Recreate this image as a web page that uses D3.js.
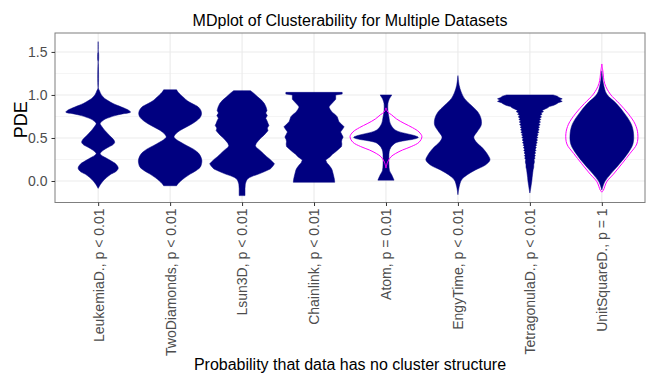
<!DOCTYPE html>
<html>
<head>
<meta charset="utf-8">
<script src="https://cdn.jsdelivr.net/npm/d3@7"></script>
<style>
  body { margin: 0; background: #fff; }
  svg { display: block; font-family: "Liberation Sans", Arial, sans-serif; }
</style>
</head>
<body>
<div id="chart"></div>
<script>
// datasets shown on the x axis and their p-value text
const datasets = ["LeukemiaD.", "TwoDiamonds", "Lsun3D", "Chainlink", "Atom", "EngyTime", "TetragonulaD.", "UnitSquareD."];
const pTexts = ["p < 0.01", "p < 0.01", "p < 0.01", "p < 0.01", "p = 0.01", "p < 0.01", "p < 0.01", "p = 1"];
const yTicks = [0, 0.5, 1, 1.5];
const yMinor = [0.25, 0.75, 1.25];

// PDE shapes: [value, relative density]
const leukemia = [[1.62,0],[1.50,0.003],[1.49,0.012],[1.40,0.012],[1.39,0.003],[1.08,0.003],[1.05,0.04],[1.0,0.1],[0.96,0.2],[0.935,0.3],[0.90,0.46],[0.86,0.72],[0.82,0.95],[0.80,1.0],[0.78,0.75],[0.76,0.52],[0.74,0.36],[0.72,0.22],[0.70,0.14],[0.68,0.08],[0.665,0.06],[0.64,0.1],[0.59,0.2],[0.55,0.3],[0.51,0.4],[0.48,0.48],[0.45,0.51],[0.42,0.45],[0.39,0.3],[0.36,0.17],[0.335,0.09],[0.32,0.06],[0.30,0.1],[0.256,0.3],[0.22,0.46],[0.20,0.54],[0.15,0.62],[0.11,0.55],[0.08,0.4],[0.04,0.26],[0.0,0.15],[-0.04,0.07],[-0.086,0]];
const twoDiamonds = [[1.06,0.2],[1.03,0.25],[1.0,0.33],[0.96,0.45],[0.935,0.52],[0.90,0.68],[0.86,0.87],[0.82,0.95],[0.78,0.97],[0.74,0.93],[0.70,0.82],[0.66,0.66],[0.625,0.49],[0.59,0.32],[0.55,0.18],[0.51,0.12],[0.48,0.2],[0.45,0.33],[0.41,0.52],[0.37,0.72],[0.33,0.86],[0.295,0.93],[0.24,0.98],[0.20,0.97],[0.16,0.93],[0.12,0.8],[0.08,0.62],[0.04,0.46],[0.0,0.33],[-0.03,0.25],[-0.055,0.2]];
const lsun3D = [[1.05,0.26],[1.02,0.36],[0.975,0.49],[0.94,0.6],[0.90,0.69],[0.86,0.74],[0.82,0.77],[0.79,0.73],[0.76,0.78],[0.73,0.73],[0.70,0.77],[0.67,0.8],[0.645,0.83],[0.615,0.78],[0.585,0.8],[0.55,0.72],[0.53,0.67],[0.50,0.58],[0.47,0.51],[0.44,0.44],[0.41,0.41],[0.39,0.44],[0.37,0.51],[0.34,0.6],[0.315,0.67],[0.28,0.77],[0.256,0.85],[0.22,0.95],[0.20,1.0],[0.17,0.95],[0.14,0.87],[0.11,0.7],[0.08,0.51],[0.06,0.35],[0.04,0.23],[0.02,0.16],[0.0,0.13],[-0.035,0.1],[-0.09,0.09],[-0.13,0.09],[-0.17,0.09]];
const chainlink = [[1.03,0.87],[1.01,0.87],[1.0,0.67],[0.95,0.67],[0.92,0.6],[0.88,0.5],[0.86,0.46],[0.83,0.5],[0.80,0.56],[0.77,0.66],[0.745,0.72],[0.71,0.75],[0.688,0.77],[0.66,0.85],[0.63,0.93],[0.60,0.88],[0.57,0.82],[0.54,0.86],[0.51,0.9],[0.48,0.86],[0.456,0.85],[0.43,0.86],[0.40,0.85],[0.37,0.76],[0.34,0.67],[0.31,0.57],[0.28,0.49],[0.244,0.36],[0.21,0.4],[0.186,0.46],[0.15,0.53],[0.128,0.56],[0.07,0.6],[0.02,0.63],[-0.015,0.64]];
const atom = [[1.0,0.18],[0.97,0.13],[0.95,0.1],[0.9,0.06],[0.82,0.06],[0.745,0.09],[0.67,0.13],[0.61,0.23],[0.575,0.38],[0.55,0.64],[0.525,0.9],[0.507,1.0],[0.49,0.9],[0.476,0.7],[0.46,0.45],[0.44,0.28],[0.39,0.15],[0.34,0.1],[0.28,0.09],[0.2,0.09],[0.12,0.11],[0.07,0.18],[0.01,0.25]];
const engyTime = [[1.225,0],[1.11,0.04],[1.035,0.1],[0.96,0.2],[0.88,0.41],[0.80,0.62],[0.73,0.71],[0.65,0.72],[0.57,0.59],[0.51,0.49],[0.456,0.56],[0.38,0.77],[0.30,0.93],[0.244,0.99],[0.186,0.85],[0.128,0.54],[0.07,0.28],[0.012,0.11],[-0.066,0.04],[-0.16,0]];
const tetragonula = [[1.0,0.72],[0.985,0.85],[0.97,0.9],[0.955,1.0],[0.94,0.93],[0.925,1.0],[0.91,0.88],[0.895,0.82],[0.88,0.74],[0.865,0.6],[0.85,0.55],[0.835,0.46],[0.82,0.38],[0.805,0.42],[0.79,0.34],[0.775,0.38],[0.76,0.31],[0.745,0.36],[0.73,0.3],[0.715,0.34],[0.70,0.28],[0.685,0.33],[0.67,0.27],[0.655,0.32],[0.64,0.26],[0.625,0.3],[0.61,0.25],[0.595,0.29],[0.58,0.24],[0.565,0.28],[0.55,0.22],[0.535,0.26],[0.52,0.21],[0.505,0.25],[0.49,0.2],[0.475,0.24],[0.46,0.19],[0.445,0.23],[0.43,0.18],[0.415,0.21],[0.40,0.17],[0.385,0.2],[0.37,0.16],[0.355,0.19],[0.34,0.15],[0.325,0.18],[0.31,0.14],[0.295,0.17],[0.28,0.14],[0.265,0.16],[0.25,0.13],[0.22,0.14],[0.19,0.12],[0.16,0.12],[0.13,0.1],[0.10,0.09],[0.07,0.08],[0.04,0.07],[0.0,0.06],[-0.05,0.04],[-0.1,0.02],[-0.14,0]];
const unitSquare = [[1.28,0],[1.13,0.05],[1.01,0.15],[0.90,0.45],[0.78,0.71],[0.66,0.91],[0.55,0.98],[0.43,0.96],[0.32,0.8],[0.20,0.55],[0.08,0.27],[-0.01,0.09],[-0.105,0]];

// reference densities (magenta outline), only for Atom and UnitSquareD.
const atomRef = [[0.85,0],[0.80,0.06],[0.77,0.17],[0.72,0.33],[0.67,0.56],[0.62,0.82],[0.57,1.02],[0.515,1.11],[0.45,1.02],[0.40,0.78],[0.36,0.51],[0.32,0.3],[0.28,0.15],[0.22,0.05],[0.15,0]];
const unitSquareRef = [[1.36,0],[1.28,0.03],[1.13,0.09],[1.01,0.26],[0.90,0.54],[0.78,0.82],[0.66,1.03],[0.55,1.11],[0.43,1.08],[0.32,0.87],[0.20,0.62],[0.08,0.36],[-0.01,0.15],[-0.105,0.05],[-0.13,0]];

const shapes = [leukemia, twoDiamonds, lsun3D, chainlink, atom, engyTime, tetragonula, unitSquare];
const smooth = [true, true, false, false, true, true, false, true];
const refShapes = [[4, atomRef], [7, unitSquareRef]];

const W = 652, H = 374;
const margin = { top: 33, right: 7, bottom: 171.5, left: 55 };
const pLeft = margin.left, pRight = W - margin.right, pTop = margin.top, pBottom = H - margin.bottom;

const svg = d3.select("#chart").append("svg")
  .attr("width", W).attr("height", H);

const x = d3.scalePoint().domain(datasets).range([pLeft, pRight]).padding(0.6);
const y = d3.scaleLinear().domain([-0.25, 1.72]).range([pBottom, pTop]);
const w = d3.scaleLinear().domain([0, 1]).range([0, 0.45 * x.step()]);

// grid
const grid = svg.append("g");
grid.selectAll(".minor").data(yMinor).enter().append("line")
  .attr("x1", pLeft).attr("x2", pRight)
  .attr("y1", d => y(d)).attr("y2", d => y(d))
  .attr("stroke", "#f3f3f3").attr("stroke-width", 0.8);
grid.selectAll(".major").data(yTicks).enter().append("line")
  .attr("x1", pLeft).attr("x2", pRight)
  .attr("y1", d => y(d)).attr("y2", d => y(d))
  .attr("stroke", "#ebebeb").attr("stroke-width", 1.1);
grid.selectAll(".vmajor").data(datasets).enter().append("line")
  .attr("x1", d => x(d)).attr("x2", d => x(d))
  .attr("y1", pTop).attr("y2", pBottom)
  .attr("stroke", "#ebebeb").attr("stroke-width", 1.1);

// violins
shapes.forEach((pts, i) => {
  const cx = x(datasets[i]);
  const area = d3.area()
    .y(d => y(d[0]))
    .x0(d => cx - w(d[1]))
    .x1(d => cx + w(d[1]))
    .curve(smooth[i] ? d3.curveCatmullRom : d3.curveLinear);
  svg.append("path")
    .attr("d", area(pts))
    .attr("fill", "#000080")
    .attr("stroke", "#000080")
    .attr("stroke-width", 0.5);
});

refShapes.forEach(([i, pts]) => {
  const cx = x(datasets[i]);
  const area = d3.area()
    .y(d => y(d[0]))
    .x0(d => cx - w(d[1]))
    .x1(d => cx + w(d[1]))
    .curve(d3.curveCatmullRom);
  svg.append("path")
    .attr("d", area(pts))
    .attr("fill", "none")
    .attr("stroke", "#ff00ff")
    .attr("stroke-width", 1);
});

// panel border
svg.append("rect")
  .attr("x", pLeft).attr("y", pTop)
  .attr("width", pRight - pLeft).attr("height", pBottom - pTop)
  .attr("fill", "none").attr("stroke", "#7f7f7f").attr("stroke-width", 1);

// axes
const yAxis = svg.append("g")
  .attr("transform", `translate(${pLeft},0)`)
  .call(d3.axisLeft(y).tickValues(yTicks).tickFormat(d3.format(".1f")).tickSize(3.5).tickPadding(4));
yAxis.select(".domain").remove();
yAxis.selectAll(".tick line").attr("stroke", "#333");
yAxis.selectAll(".tick text").attr("fill", "#4d4d4d").style("font-size", "14px").style("font-family", "Liberation Sans, Arial, sans-serif");

const xAxis = svg.append("g")
  .attr("transform", `translate(0,${pBottom})`)
  .call(d3.axisBottom(x).tickSize(3.5).tickFormat((d, i) => `${d}, ${pTexts[i]}`));
xAxis.select(".domain").remove();
xAxis.selectAll(".tick line").attr("stroke", "#333");
xAxis.selectAll(".tick text")
  .attr("fill", "#4d4d4d")
  .style("font-size", "14px")
  .style("font-family", "Liberation Sans, Arial, sans-serif")
  .attr("transform", "rotate(-90)")
  .attr("text-anchor", "end")
  .attr("x", -6)
  .attr("y", 0)
  .attr("dy", "0.35em");

// titles
svg.append("text")
  .attr("x", (pLeft + pRight) / 2).attr("y", 26)
  .attr("text-anchor", "middle")
  .style("font-size", "16px").attr("fill", "#000")
  .text("MDplot of Clusterability for Multiple Datasets");

svg.append("text")
  .attr("transform", `translate(27,${(pTop + pBottom) / 2 + 2}) rotate(-90)`)
  .attr("text-anchor", "middle")
  .style("font-size", "18px").attr("fill", "#000")
  .text("PDE");

svg.append("text")
  .attr("x", (pLeft + pRight) / 2).attr("y", 370)
  .attr("text-anchor", "middle")
  .style("font-size", "16px").attr("fill", "#000")
  .text("Probability that data has no cluster structure");
</script>
</body>
</html>
